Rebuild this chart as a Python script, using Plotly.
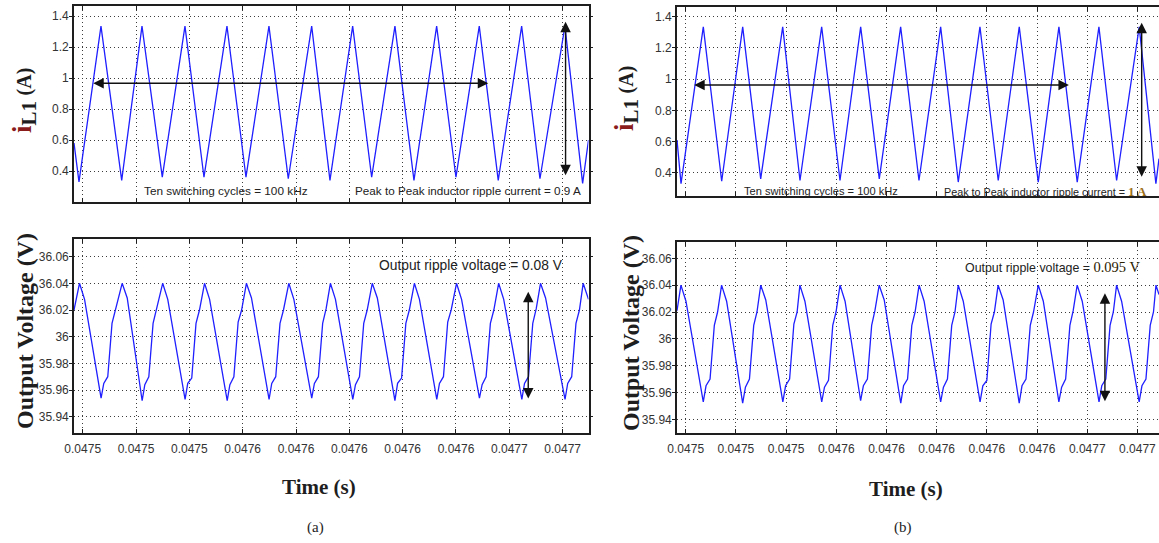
import numpy as np
import plotly.graph_objects as go

# Time base: all sample times are in microseconds after T0 (seconds)
T0 = 0.0475

# ---- x-axis ticks (shared by all panels) ----
tick_us = [0, 20, 40, 60, 80, 100, 120, 140, 160, 180]
tick_text = ["0.0475", "0.0475", "0.0475", "0.0476", "0.0476",
             "0.0476", "0.0476", "0.0476", "0.0477", "0.0477"]

# ---- (a) inductor current i_L1 (A) ----
t_il_a = [-3.26, -1.39, 6.86, 14.63, 22.24, 29.85, 38.36, 45.49, 54.11, 61.24,
          69.86, 77.10, 85.88, 92.74, 101.25, 108.38, 117.11, 124.24, 132.75,
          139.99, 148.73, 155.85, 164.63, 171.49, 180.86, 187.50, 189.70]
il_a = [0.58, 0.33, 1.335, 0.34, 1.335, 0.36, 1.335, 0.36, 1.335, 0.36,
        1.335, 0.35, 1.335, 0.34, 1.335, 0.36, 1.335, 0.34, 1.335,
        0.36, 1.335, 0.34, 1.335, 0.35, 1.335, 0.32, 0.60]

# ---- (a) output voltage (V) ----
t_vo_a = [-3.26, -1.2, 0.7, 6.9, 7.9, 9.4, 11.0, 12.3,
          14.8, 16.7, 22.3, 23.3, 24.8, 26.4, 27.7,
          30.0, 31.9, 38.4, 39.4, 40.9, 42.5, 43.8,
          45.7, 47.6, 54.2, 55.2, 56.7, 58.3, 59.6,
          61.4, 63.3, 69.9, 70.9, 72.4, 74.0, 75.3,
          77.3, 79.2, 85.9, 86.9, 88.4, 90.0, 91.3,
          92.9, 94.8, 101.3, 102.3, 103.8, 105.4, 106.7,
          108.6, 110.5, 117.1, 118.1, 119.6, 121.2, 122.5,
          124.4, 126.3, 132.8, 133.8, 135.3, 136.9, 138.2,
          140.2, 142.1, 148.8, 149.8, 151.3, 152.9, 154.2,
          156.0, 157.9, 164.7, 165.7, 167.2, 168.8, 170.1,
          171.7, 173.6, 180.9, 181.9, 183.4, 185.0, 186.3,
          187.7, 189.7]
vo_a = [36.020, 36.040, 36.028, 35.954, 35.965, 35.970, 36.010, 36.020,
        36.040, 36.029, 35.952, 35.964, 35.970, 36.010, 36.021,
        36.040, 36.028, 35.953, 35.965, 35.969, 36.010, 36.020,
        36.040, 36.028, 35.952, 35.964, 35.970, 36.011, 36.020,
        36.040, 36.029, 35.953, 35.965, 35.970, 36.010, 36.020,
        36.040, 36.028, 35.954, 35.965, 35.970, 36.010, 36.021,
        36.040, 36.028, 35.953, 35.964, 35.970, 36.010, 36.020,
        36.040, 36.029, 35.952, 35.965, 35.969, 36.010, 36.020,
        36.040, 36.028, 35.953, 35.965, 35.970, 36.011, 36.020,
        36.040, 36.028, 35.954, 35.964, 35.970, 36.010, 36.020,
        36.040, 36.028, 35.953, 35.965, 35.970, 36.010, 36.021,
        36.040, 36.029, 35.953, 35.965, 35.970, 36.010, 36.020,
        36.040, 36.028]

# ---- (b) inductor current i_L1 (A) ----
t_il_b = [-3.47, -1.87, 7.01, 14.34, 22.71, 29.88, 38.65, 45.54, 54.18, 61.48,
          69.72, 77.13, 85.65, 92.95, 101.59, 108.61, 117.25, 124.54, 132.91,
          140.48, 148.72, 156.01, 164.66, 171.71, 180.71, 187.36, 188.60]
il_b = [0.61, 0.33, 1.335, 0.345, 1.335, 0.36, 1.335, 0.35, 1.335, 0.35,
        1.335, 0.36, 1.335, 0.35, 1.335, 0.34, 1.335, 0.35, 1.335,
        0.34, 1.335, 0.34, 1.335, 0.35, 1.335, 0.33, 0.49]

# ---- (b) output voltage (V) ----
t_vo_b = [-3.47, -1.9, 0.1, 7.0, 8.1, 9.7, 11.4, 12.7,
          14.3, 16.3, 22.7, 23.8, 25.4, 27.1, 28.4,
          29.9, 31.9, 38.7, 39.8, 41.4, 43.1, 44.4,
          45.5, 47.5, 54.2, 55.3, 56.9, 58.6, 59.9,
          61.5, 63.5, 69.7, 70.8, 72.4, 74.1, 75.4,
          77.1, 79.1, 85.7, 86.8, 88.4, 90.1, 91.4,
          93.0, 95.0, 101.6, 102.7, 104.3, 106.0, 107.3,
          108.6, 110.6, 117.3, 118.4, 120.0, 121.7, 123.0,
          124.5, 126.5, 132.9, 134.0, 135.6, 137.3, 138.6,
          140.5, 142.5, 148.7, 149.8, 151.4, 153.1, 154.4,
          156.0, 158.0, 164.7, 165.8, 167.4, 169.1, 170.4,
          171.7, 173.7, 180.7, 181.8, 183.4, 185.1, 186.4,
          187.4, 188.6]
vo_b = [36.021, 36.040, 36.028, 35.953, 35.965, 35.970, 36.010, 36.020,
        36.040, 36.028, 35.952, 35.964, 35.970, 36.010, 36.020,
        36.040, 36.029, 35.953, 35.965, 35.970, 36.011, 36.020,
        36.040, 36.028, 35.953, 35.964, 35.969, 36.010, 36.020,
        36.040, 36.028, 35.954, 35.965, 35.970, 36.010, 36.021,
        36.040, 36.029, 35.952, 35.965, 35.970, 36.010, 36.020,
        36.040, 36.028, 35.953, 35.964, 35.970, 36.010, 36.020,
        36.040, 36.028, 35.953, 35.965, 35.969, 36.011, 36.020,
        36.040, 36.029, 35.952, 35.965, 35.970, 36.010, 36.020,
        36.040, 36.028, 35.953, 35.964, 35.970, 36.010, 36.021,
        36.040, 36.028, 35.953, 35.965, 35.970, 36.010, 36.020,
        36.040, 36.028, 35.953, 35.965, 35.970, 36.010, 36.020,
        36.040, 36.033]

# axis ranges (microseconds after T0, and signal units)
xr_a = [-3.26, 189.7]
xr_b = [-3.47, 188.6]
yr_il_a = [0.202, 1.4645]
yr_il_b = [0.2506, 1.4622]
yr_vo_a = [35.9278, 36.0730]
yr_vo_b = [35.9298, 36.0724]
il_ticks = [0.4, 0.6, 0.8, 1.0, 1.2, 1.4]
il_ticktext = ["0.4", "0.6", "0.8", "1", "1.2", "1.4"]
vo_ticks = [35.94, 35.96, 35.98, 36.0, 36.02, 36.04, 36.06]
vo_ticktext = ["35.94", "35.96", "35.98", "36", "36.02", "36.04", "36.06"]


def sec(us):
    return T0 + np.asarray(us, dtype=float) * 1e-6


W, H = 1159, 543
LINE = "#1f1fff"
INK = "#1e1e1e"
SANS = "Liberation Sans"
SERIF = "Liberation Serif"

fig = go.Figure()
series = [
    (t_il_a, il_a, "x", "y"),
    (t_vo_a, vo_a, "x2", "y2"),
    (t_il_b, il_b, "x3", "y3"),
    (t_vo_b, vo_b, "x4", "y4"),
]
for t, v, xa, ya in series:
    fig.add_trace(go.Scatter(x=sec(t), y=v, mode="lines", xaxis=xa, yaxis=ya,
                             line=dict(color=LINE, width=1.3), showlegend=False,
                             hoverinfo="skip"))


def px_x(p):
    return p / W


def px_y(p):
    return 1 - p / H


common = dict(showline=True, linecolor=INK, linewidth=1.6,
              showgrid=True, gridcolor="#3c3c3c", gridwidth=1, griddash="1px,3px",
              zeroline=False, tickcolor=INK, automargin=False,
              tickfont=dict(family=SANS, size=12, color="#333"))


def xax(dom, rng, anchor, labels, mirror):
    return dict(common, domain=dom, range=[sec(rng[0]), sec(rng[1])], anchor=anchor,
                tickmode="array", tickvals=list(sec(tick_us)), ticktext=tick_text,
                ticks="inside", ticklen=4, mirror=mirror, showticklabels=labels,
                ticklabelstandoff=4)


def yax(dom, rng, anchor, vals, text, mirror):
    return dict(common, domain=dom, range=rng, anchor=anchor,
                tickmode="array", tickvals=vals, ticktext=text,
                ticks="outside", ticklen=3, mirror=mirror, ticklabelstandoff=-2)


dom_xa = [px_x(74), px_x(588.5)]
dom_xb = [px_x(677), 1.0]

fig.update_layout(
    width=W, height=H, margin=dict(l=0, r=0, t=0, b=0, autoexpand=False),
    paper_bgcolor="white", plot_bgcolor="white",
    xaxis=xax(dom_xa, xr_a, "y", False, "ticks"),
    yaxis=yax([px_y(201.7), px_y(6)], yr_il_a, "x", il_ticks, il_ticktext, "ticks"),
    xaxis2=xax(dom_xa, xr_a, "y2", True, "ticks"),
    yaxis2=yax([px_y(433), px_y(239.3)], yr_vo_a, "x2", vo_ticks, vo_ticktext, "ticks"),
    xaxis3=xax(dom_xb, xr_b, "y3", False, "ticks"),
    yaxis3=yax([px_y(196), px_y(7)], yr_il_b, "x3", il_ticks, il_ticktext, False),
    xaxis4=xax(dom_xb, xr_b, "y4", True, "ticks"),
    yaxis4=yax([px_y(433), px_y(241.7)], yr_vo_b, "x4", vo_ticks, vo_ticktext, False),
)

ann = []


def label(text, x, y, size, family, angle=0, anchor="center", color=INK):
    ann.append(dict(text=text, x=px_x(x), y=px_y(y), xref="paper", yref="paper",
                    xanchor=anchor, yanchor="middle", showarrow=False, textangle=angle,
                    font=dict(family=family, size=size, color=color)))


# axis titles
il_title = ("<b><span style='font-size:27px;color:#8a1c1c'>i</span>"
            "<sub><span style='font-size:21px'>L1</span></sub>&nbsp;"
            "<span style='font-size:20px'>(A)</span></b>")
label(il_title, 24, 100, 22, SERIF, -90)
label(il_title, 626, 99, 22, SERIF, -90)
label("<b>Output Voltage (V)</b>", 25, 331, 24, SERIF, -90)
label("<b>Output Voltage (V)</b>", 631, 333, 24, SERIF, -90)
label("<b>Time (s)</b>", 319, 487, 21, SERIF)
label("<b>Time (s)</b>", 906, 489, 21, SERIF)
label("(a)", 315, 527, 15, SERIF)
label("(b)", 903, 527, 15, SERIF)

# in-plot notes
NOTE = "#222"
label("Ten switching cycles = 100 kHz", 141.7, 191, 11.8, SANS, anchor="left", color=NOTE)
label("Peak to Peak inductor ripple current = 0.9 A", 353.3, 190, 11.7, SANS,
      anchor="left", color=NOTE)
label("Output ripple voltage = 0.08 V", 376.7, 265, 13.8, SANS, anchor="left", color=NOTE)
label("Ten switching cycles = 100 kHz", 741.7, 191.5, 11.1, SANS, anchor="left", color=NOTE)
label("Peak to Peak inductor ripple current = "
      "<span style='font-family:Liberation Serif;color:#9c6f19;font-size:13px'><b>1 A</b></span>",
      941.7, 191, 10.8, SANS, anchor="left", color=NOTE)
label("Output ripple voltage = "
      "<span style='font-family:Liberation Serif;color:#2a2000;font-size:14.5px'>0.095 V</span>",
      962.7, 267, 12.4, SANS, anchor="left", color=NOTE)


def arrow(xa, ya, t0, v0, t1, v1):
    ann.append(dict(x=sec(t1), y=v1, ax=sec(t0), ay=v0, xref=xa, yref=ya,
                    axref=xa, ayref=ya, showarrow=True, arrowhead=2, startarrowhead=2,
                    arrowside="end+start", arrowsize=1.5, startarrowsize=1.5,
                    arrowwidth=1.4, arrowcolor="#111", text=""))


# ten-cycle span and ripple markers
arrow("x", "y", 3.4, 0.966, 152.1, 0.966)
arrow("x", "y", 181.1, 0.363, 181.1, 1.363)
arrow("x2", "y2", 167.1, 35.9525, 167.1, 36.0337)
arrow("x3", "y3", 2.79, 0.962, 152.7, 0.962)
arrow("x3", "y3", 181.7, 0.364, 181.7, 1.362)
arrow("x4", "y4", 167.05, 35.9524, 167.05, 36.0339)

fig.update_layout(annotations=ann)
fig.write_html("out.html")
